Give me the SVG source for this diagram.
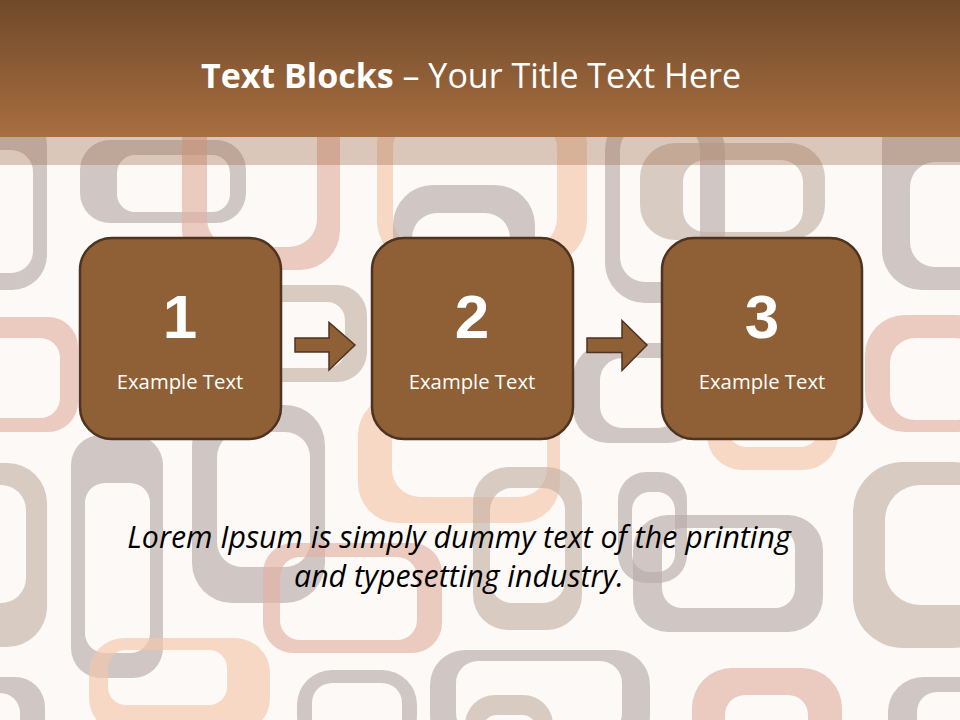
<svg xmlns="http://www.w3.org/2000/svg" width="960" height="720" viewBox="0 0 960 720">
<defs>
<linearGradient id="hdr" x1="0" y1="0" x2="0" y2="1">
<stop offset="0" stop-color="#6f4a2b"/>
<stop offset="1" stop-color="#a86e40"/>
</linearGradient>
<style>
.g{fill:#b8acab}.p{fill:#e2b0a3}.pe{fill:#f3c6ab}.t{fill:#c4b2a6}
.bg path{fill-rule:evenodd;fill-opacity:.65}
.box{fill:#8f5f35;stroke:#4e3320;stroke-width:2.5}
.arr{fill:#8f5f35;stroke:#4e3320;stroke-width:1.5;stroke-linejoin:miter}
.num{font-family:"Liberation Sans",Arial,sans-serif;font-weight:bold;font-size:62px;fill:#fff;text-anchor:middle}
.lbl{font-family:"Open Sans","Noto Sans",sans-serif;font-size:20.3px;fill:#fff;text-anchor:middle}
.ttl{font-family:"Open Sans","Noto Sans",sans-serif;font-size:34px;fill:#fff;text-anchor:middle}
.lor{font-family:"Open Sans","Noto Sans",sans-serif;font-style:italic;font-size:30.3px;fill:#000;text-anchor:middle}
</style>
</defs>
<rect width="960" height="720" fill="#fcf9f7"/>
<g class="bg">
<path class="g" d="M-25,110 h37 a35,35 0 0 1 35,35 v110 a35,35 0 0 1 -35,35 h-37 a35,35 0 0 1 -35,-35 v-110 a35,35 0 0 1 35,-35z M-18,150 h29 a22,22 0 0 1 22,22 v79 a22,22 0 0 1 -22,22 h-29 a22,22 0 0 1 -22,-22 v-79 a22,22 0 0 1 22,-22z"/>
<path class="g" d="M110,140 h106 a30,30 0 0 1 30,30 v23 a30,30 0 0 1 -30,30 h-106 a30,30 0 0 1 -30,-30 v-23 a30,30 0 0 1 30,-30z M135,155 h77 a18,18 0 0 1 18,18 v21 a18,18 0 0 1 -18,18 h-77 a18,18 0 0 1 -18,-18 v-21 a18,18 0 0 1 18,-18z"/>
<path class="p" d="M222,90 h78 a40,40 0 0 1 40,40 v100 a40,40 0 0 1 -40,40 h-78 a40,40 0 0 1 -40,-40 v-100 a40,40 0 0 1 40,-40z M235,110 h54 a28,28 0 0 1 28,28 v81 a28,28 0 0 1 -28,28 h-54 a28,28 0 0 1 -28,-28 v-81 a28,28 0 0 1 28,-28z"/>
<path class="pe" d="M422,100 h120 a45,45 0 0 1 45,45 v75 a45,45 0 0 1 -45,45 h-120 a45,45 0 0 1 -45,-45 v-75 a45,45 0 0 1 45,-45z M423,118 h104 a30,30 0 0 1 30,30 v70 a30,30 0 0 1 -30,30 h-104 a30,30 0 0 1 -30,-30 v-70 a30,30 0 0 1 30,-30z"/>
<path class="g" d="M433,185 h62 a40,40 0 0 1 40,40 v70 a40,40 0 0 1 -40,40 h-62 a40,40 0 0 1 -40,-40 v-70 a40,40 0 0 1 40,-40z M437,213 h48 a25,25 0 0 1 25,25 v60 a25,25 0 0 1 -25,25 h-48 a25,25 0 0 1 -25,-25 v-60 a25,25 0 0 1 25,-25z"/>
<path class="t" d="M280,285 h57 a30,30 0 0 1 30,30 v37 a30,30 0 0 1 -30,30 h-57 a30,30 0 0 1 -30,-30 v-37 a30,30 0 0 1 30,-30z M278,302 h49 a18,18 0 0 1 18,18 v30 a18,18 0 0 1 -18,18 h-49 a18,18 0 0 1 -18,-18 v-30 a18,18 0 0 1 18,-18z"/>
<path class="p" d="M-10,317 h58 a30,30 0 0 1 30,30 v55 a30,30 0 0 1 -30,30 h-58 a30,30 0 0 1 -30,-30 v-55 a30,30 0 0 1 30,-30z M-10,338 h50 a20,20 0 0 1 20,20 v40 a20,20 0 0 1 -20,20 h-50 a20,20 0 0 1 -20,-20 v-40 a20,20 0 0 1 20,-20z"/>
<path class="g" d="M232,405 h53 a40,40 0 0 1 40,40 v118 a40,40 0 0 1 -40,40 h-53 a40,40 0 0 1 -40,-40 v-118 a40,40 0 0 1 40,-40z M242,432 h43 a25,25 0 0 1 25,25 v85 a25,25 0 0 1 -25,25 h-43 a25,25 0 0 1 -25,-25 v-85 a25,25 0 0 1 25,-25z"/>
<path class="g" d="M101,435 h32 a30,30 0 0 1 30,30 v183 a30,30 0 0 1 -30,30 h-32 a30,30 0 0 1 -30,-30 v-183 a30,30 0 0 1 30,-30z M105,483 h25 a20,20 0 0 1 20,20 v130 a20,20 0 0 1 -20,20 h-25 a20,20 0 0 1 -20,-20 v-130 a20,20 0 0 1 20,-20z"/>
<path class="t" d="M-20,463 h27 a40,40 0 0 1 40,40 v104 a40,40 0 0 1 -40,40 h-27 a40,40 0 0 1 -40,-40 v-104 a40,40 0 0 1 40,-40z M-25,485 h26 a25,25 0 0 1 25,25 v68 a25,25 0 0 1 -25,25 h-26 a25,25 0 0 1 -25,-25 v-68 a25,25 0 0 1 25,-25z"/>
<path class="pe" d="M124,638 h111 a35,35 0 0 1 35,35 v25 a35,35 0 0 1 -35,35 h-111 a35,35 0 0 1 -35,-35 v-25 a35,35 0 0 1 35,-35z M126,650 h83 a18,18 0 0 1 18,18 v19 a18,18 0 0 1 -18,18 h-83 a18,18 0 0 1 -18,-18 v-19 a18,18 0 0 1 18,-18z"/>
<path class="p" d="M293,543 h119 a30,30 0 0 1 30,30 v50 a30,30 0 0 1 -30,30 h-119 a30,30 0 0 1 -30,-30 v-50 a30,30 0 0 1 30,-30z M300,557 h97 a20,20 0 0 1 20,20 v43 a20,20 0 0 1 -20,20 h-97 a20,20 0 0 1 -20,-20 v-43 a20,20 0 0 1 20,-20z"/>
<path class="g" d="M332,670 h50 a35,35 0 0 1 35,35 v10 a35,35 0 0 1 -35,35 h-50 a35,35 0 0 1 -35,-35 v-10 a35,35 0 0 1 35,-35z M332,683 h50 a20,20 0 0 1 20,20 v20 a20,20 0 0 1 -20,20 h-50 a20,20 0 0 1 -20,-20 v-20 a20,20 0 0 1 20,-20z"/>
<path class="g" d="M465,650 h150 a35,35 0 0 1 35,35 v30 a35,35 0 0 1 -35,35 h-150 a35,35 0 0 1 -35,-35 v-30 a35,35 0 0 1 35,-35z M478,661 h122 a22,22 0 0 1 22,22 v30 a22,22 0 0 1 -22,22 h-122 a22,22 0 0 1 -22,-22 v-30 a22,22 0 0 1 22,-22z"/>
<path class="t" d="M495,695 h28 a30,30 0 0 1 30,30 v10 a30,30 0 0 1 -30,30 h-28 a30,30 0 0 1 -30,-30 v-10 a30,30 0 0 1 30,-30z M497,715 h25 a15,15 0 0 1 15,15 v10 a15,15 0 0 1 -15,15 h-25 a15,15 0 0 1 -15,-15 v-10 a15,15 0 0 1 15,-15z"/>
<path class="pe" d="M398,395 h122 a40,40 0 0 1 40,40 v48 a40,40 0 0 1 -40,40 h-122 a40,40 0 0 1 -40,-40 v-48 a40,40 0 0 1 40,-40z M420,412 h99 a28,28 0 0 1 28,28 v29 a28,28 0 0 1 -28,28 h-99 a28,28 0 0 1 -28,-28 v-29 a28,28 0 0 1 28,-28z"/>
<path class="t" d="M508,467 h39 a35,35 0 0 1 35,35 v93 a35,35 0 0 1 -35,35 h-39 a35,35 0 0 1 -35,-35 v-93 a35,35 0 0 1 35,-35z M512,488 h31 a22,22 0 0 1 22,22 v71 a22,22 0 0 1 -22,22 h-31 a22,22 0 0 1 -22,-22 v-71 a22,22 0 0 1 22,-22z"/>
<path class="g" d="M646,472 h13 a28,28 0 0 1 28,28 v55 a28,28 0 0 1 -28,28 h-13 a28,28 0 0 1 -28,-28 v-55 a28,28 0 0 1 28,-28z M650,492 h7 a18,18 0 0 1 18,18 v44 a18,18 0 0 1 -18,18 h-7 a18,18 0 0 1 -18,-18 v-44 a18,18 0 0 1 18,-18z"/>
<path class="g" d="M668,515 h120 a35,35 0 0 1 35,35 v47 a35,35 0 0 1 -35,35 h-120 a35,35 0 0 1 -35,-35 v-47 a35,35 0 0 1 35,-35z M682,528 h93 a20,20 0 0 1 20,20 v40 a20,20 0 0 1 -20,20 h-93 a20,20 0 0 1 -20,-20 v-40 a20,20 0 0 1 20,-20z"/>
<path class="t" d="M903,462 h50 a50,50 0 0 1 50,50 v86 a50,50 0 0 1 -50,50 h-50 a50,50 0 0 1 -50,-50 v-86 a50,50 0 0 1 50,-50z M920,485 h40 a35,35 0 0 1 35,35 v50 a35,35 0 0 1 -35,35 h-40 a35,35 0 0 1 -35,-35 v-50 a35,35 0 0 1 35,-35z"/>
<path class="p" d="M732,668 h70 a40,40 0 0 1 40,40 v20 a40,40 0 0 1 -40,40 h-70 a40,40 0 0 1 -40,-40 v-20 a40,40 0 0 1 40,-40z M745,695 h43 a20,20 0 0 1 20,20 v20 a20,20 0 0 1 -20,20 h-43 a20,20 0 0 1 -20,-20 v-20 a20,20 0 0 1 20,-20z"/>
<path class="g" d="M923,677 h50 a35,35 0 0 1 35,35 v10 a35,35 0 0 1 -35,35 h-50 a35,35 0 0 1 -35,-35 v-10 a35,35 0 0 1 35,-35z M937,692 h40 a20,20 0 0 1 20,20 v20 a20,20 0 0 1 -20,20 h-40 a20,20 0 0 1 -20,-20 v-20 a20,20 0 0 1 20,-20z"/>
<path class="pe" d="M742,380 h61 a35,35 0 0 1 35,35 v20 a35,35 0 0 1 -35,35 h-61 a35,35 0 0 1 -35,-35 v-20 a35,35 0 0 1 35,-35z M747,395 h53 a20,20 0 0 1 20,20 v12 a20,20 0 0 1 -20,20 h-53 a20,20 0 0 1 -20,-20 v-12 a20,20 0 0 1 20,-20z"/>
<path class="p" d="M905,315 h50 a40,40 0 0 1 40,40 v37 a40,40 0 0 1 -40,40 h-50 a40,40 0 0 1 -40,-40 v-37 a40,40 0 0 1 40,-40z M915,338 h40 a25,25 0 0 1 25,25 v32 a25,25 0 0 1 -25,25 h-40 a25,25 0 0 1 -25,-25 v-32 a25,25 0 0 1 25,-25z"/>
<path class="g" d="M922,100 h40 a40,40 0 0 1 40,40 v110 a40,40 0 0 1 -40,40 h-40 a40,40 0 0 1 -40,-40 v-110 a40,40 0 0 1 40,-40z M935,162 h40 a25,25 0 0 1 25,25 v55 a25,25 0 0 1 -25,25 h-40 a25,25 0 0 1 -25,-25 v-55 a25,25 0 0 1 25,-25z"/>
<path class="g" d="M645,110 h40 a40,40 0 0 1 40,40 v113 a40,40 0 0 1 -40,40 h-40 a40,40 0 0 1 -40,-40 v-113 a40,40 0 0 1 40,-40z M645,125 h30 a25,25 0 0 1 25,25 v107 a25,25 0 0 1 -25,25 h-30 a25,25 0 0 1 -25,-25 v-107 a25,25 0 0 1 25,-25z"/>
<path class="t" d="M675,143 h115 a35,35 0 0 1 35,35 v27 a35,35 0 0 1 -35,35 h-115 a35,35 0 0 1 -35,-35 v-27 a35,35 0 0 1 35,-35z M705,160 h76 a22,22 0 0 1 22,22 v28 a22,22 0 0 1 -22,22 h-76 a22,22 0 0 1 -22,-22 v-28 a22,22 0 0 1 22,-22z"/>
<path class="g" d="M608,343 h60 a35,35 0 0 1 35,35 v30 a35,35 0 0 1 -35,35 h-60 a35,35 0 0 1 -35,-35 v-30 a35,35 0 0 1 35,-35z M622,358 h36 a22,22 0 0 1 22,22 v26 a22,22 0 0 1 -22,22 h-36 a22,22 0 0 1 -22,-22 v-26 a22,22 0 0 1 22,-22z"/>
<path class="g" d="M-20,677 h35 a30,30 0 0 1 30,30 v20 a30,30 0 0 1 -30,30 h-35 a30,30 0 0 1 -30,-30 v-20 a30,30 0 0 1 30,-30z M-20,693 h20 a20,20 0 0 1 20,20 v20 a20,20 0 0 1 -20,20 h-20 a20,20 0 0 1 -20,-20 v-20 a20,20 0 0 1 20,-20z"/>
</g>
<rect x="0" y="137" width="960" height="28" fill="#9a6640" fill-opacity="0.34"/>
<g id="header">
<rect x="0" y="0" width="960" height="137" fill="url(#hdr)"/>
<text class="ttl" x="471" y="88"><tspan font-weight="bold">Text Blocks</tspan> – Your Title Text Here</text>
</g>
<g id="connectors">
<path class="arr" d="M295,338 H329 V322.5 L355,345 L329,370 V352 H295 Z"/>
<path class="arr" d="M587,338 H622 V320.5 L647,345 L622,370.5 V352.5 H587 Z"/>
</g>
<g id="node1">
<rect class="box" x="80" y="238" width="201" height="201" rx="32"/>
<text class="num" x="180" y="338">1</text>
<text class="lbl" x="180" y="389">Example Text</text>
</g>
<g id="node2">
<rect class="box" x="372" y="238" width="201" height="201" rx="32"/>
<text class="num" x="472" y="338">2</text>
<text class="lbl" x="472" y="389">Example Text</text>
</g>
<g id="node3">
<rect class="box" x="662" y="238" width="200" height="201" rx="32"/>
<text class="num" x="762" y="338">3</text>
<text class="lbl" x="762" y="389">Example Text</text>
</g>
<g id="caption">
<text class="lor" x="459" y="548">Lorem Ipsum is simply dummy text of the printing</text>
<text class="lor" x="459" y="587">and typesetting industry.</text>
</g>
</svg>
